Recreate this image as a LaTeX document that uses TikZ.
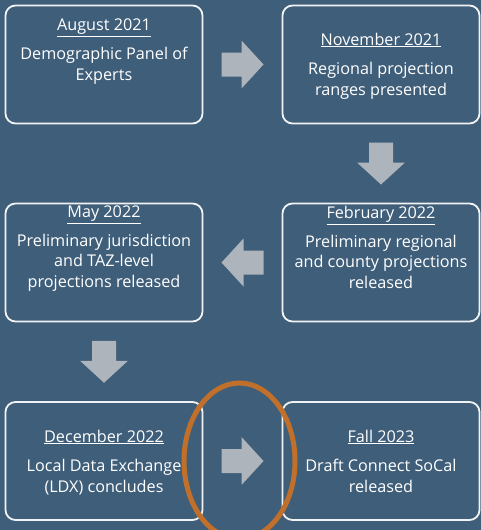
\documentclass[tikz,border=0pt]{standalone}
\usepackage{fontspec}
\setmainfont{Open Sans}
\usetikzlibrary{calc}

\definecolor{slate}{HTML}{3F5E79}
\definecolor{arrowgray}{HTML}{AEB4BB}
\definecolor{ringorange}{HTML}{C0702A}

\tikzset{
  stepbox/.style = {draw = white!92!slate, line width = 1.8pt, rounded corners = 10pt, minimum width = 197pt, minimum height = 118pt, inner sep = 0pt},
  steptext/.style = {text = white, align = center, anchor = base, inner sep = 0pt, font = \fontsize{16.2}{20.5}\selectfont},
  blockarrow/.pic = {\fill[arrowgray] (-21,-12) -- (-1,-12) -- (-1,-24) -- (21,0) -- (-1,24) -- (-1,12) -- (-21,12) -- cycle;}
}

\begin{document}
\begin{tikzpicture}[x = 1pt, y = -1pt]
\useasboundingbox (0,0) rectangle (481,530);
\fill[slate] (0,0) rectangle (481,530);
\clip (0,0) rectangle (481,530);

% timeline boxes
\node[stepbox] (aug) at (104,64.5) {};
\node[stepbox] (nov) at (381,64.5) {};
\node[stepbox] (feb) at (381,262.5) {};
\node[stepbox] (may) at (104,262.5) {};
\node[stepbox] (dec) at (104,461) {};
\node[stepbox] (fall) at (381,461) {};

% texts, placed by the baseline of their last line
\node[steptext] (augtext) at (104,80) {\underline{August 2021}\\[8.5pt] Demographic Panel of\\ Experts};
\node[steptext] (novtext) at (381,95) {\underline{November 2021}\\[9pt] Regional projection\\ ranges presented};
\node[steptext] (febtext) at (381,288) {\underline{February 2022}\\[8pt] Preliminary regional\\ and county projections\\ released};
\node[steptext] (maytext) at (104,287) {\underline{May 2022}\\[8pt] Preliminary jurisdiction\\ and TAZ-level\\ projections released};
\node[steptext] (dectext) at (104,492) {\underline{December 2022}\\[9pt] Local Data Exchange\\ (LDX) concludes};
\node[steptext] (falltext) at (381,492) {\underline{Fall 2023}\\[9pt] Draft Connect SoCal\\ released};

% arrows between the steps
\pic (a1) at ($(aug.east)!0.5!(nov.west)$) {blockarrow};
\pic[rotate = -90] (a2) at ($(nov.south)!0.5!(feb.north)$) {blockarrow};
\pic[rotate = 180] (a3) at ($(feb.west)!0.5!(may.east)$) {blockarrow};
\pic[rotate = -90] (a4) at ($(may.south)!0.5!(dec.north)$) {blockarrow};
\pic (a5) at ($(dec.east)!0.5!(fall.west)$) {blockarrow};

\coordinate (ringc) at ($(dec.east)!0.5!(fall.west)$);
\draw[ringorange, line width = 5pt] ([xshift = -3pt]ringc) ellipse [x radius = 55.5pt, y radius = 78pt];
\end{tikzpicture}
\end{document}
